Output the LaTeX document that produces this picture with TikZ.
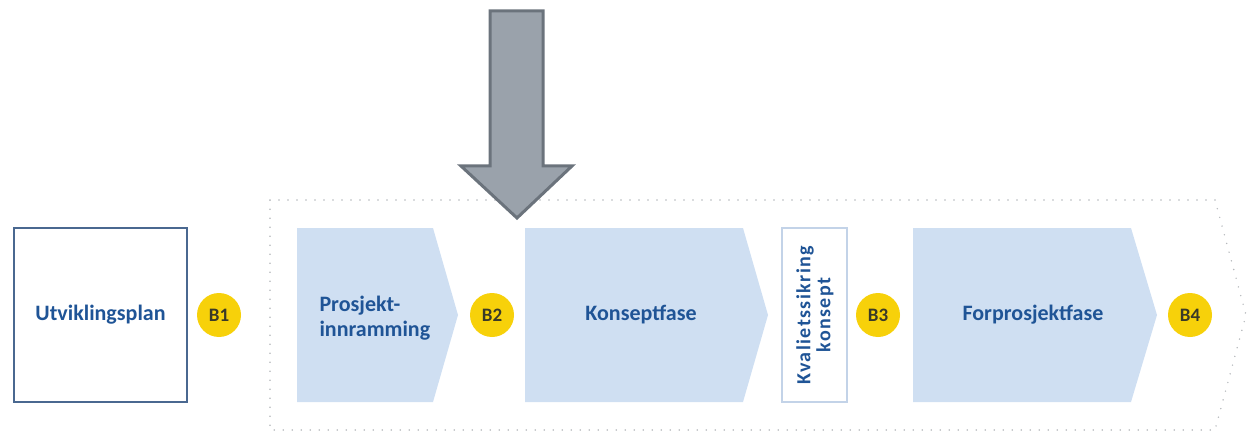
\documentclass[tikz,border=0pt]{standalone}
\usepackage{fontspec}
\setmainfont{Carlito}
\definecolor{phase}{HTML}{CFDFF2}
\definecolor{txtblue}{HTML}{1F5496}
\definecolor{gold}{HTML}{F7D10A}
\definecolor{goldtxt}{HTML}{3A3A28}
\definecolor{arrowfill}{HTML}{9AA2AB}
\definecolor{arrowedge}{HTML}{6B737C}
\definecolor{boxedge}{HTML}{4A6890}
\definecolor{qaedge}{HTML}{C3D3E8}
\definecolor{dotgray}{HTML}{B5B8BC}
\tikzset{
  label/.style={font=\bfseries\fontsize{22}{25}\selectfont, text=txtblue, align=left},
  gate/.style={circle, fill=gold, minimum size=44pt, inner sep=0pt,
    font=\bfseries\fontsize{19}{20}\selectfont, text=goldtxt},
  phasefill/.style={fill=phase, draw=none},
  dotted frame/.style={draw=dotgray, line width=1.6pt, line cap=round, dash pattern=on 0pt off 9pt}
}
\begin{document}
\begin{tikzpicture}[x=1pt,y=-1pt]
\useasboundingbox (0,0) rectangle (1248,433);
% dotted frame
\draw[dotted frame] (270,200) -- (1215,200) -- (1246,315) -- (1215,430) -- (270,430) -- cycle;
% Utviklingsplan
\node[draw=boxedge, line width=1.8pt, minimum width=173pt, minimum height=174pt, inner sep=0pt, label] (utv) at (100.5,315) {Utviklingsplan};
\node[gate] (b1) at (219,315) {B1};
% Prosjektinnramming
\path[phasefill] (297,228) -- (433,228) -- (458,315) -- (433,402) -- (297,402) -- cycle;
\node[label, anchor=west] (pro) at (316,318) {Prosjekt-\\innramming};
\node[gate] (b2) at (492,315) {B2};
% Konseptfase
\path[phasefill] (525,228) -- (743,228) -- (768,315) -- (743,402) -- (525,402) -- cycle;
\node[label] (kon) at (641,315) {Konseptfase};
% QA box
\node[draw=qaedge, line width=1.2pt, fill=white, minimum width=65pt, minimum height=174pt, inner sep=0pt] (qa) at (814.5,315) {};
\node[label, align=center, rotate=90, font=\bfseries\fontsize{20}{20}\selectfont\addfontfeature{LetterSpace=7}] (qat) at (815,315) {Kvalietssikring\\konsept};
\node[gate] (b3) at (878,315) {B3};
% Forprosjektfase
\path[phasefill] (913,228) -- (1131,228) -- (1157,315) -- (1131,402) -- (913,402) -- cycle;
\node[label] (for) at (1033,315) {Forprosjektfase};
\node[gate] (b4) at (1190,315) {B4};
% big arrow
\coordinate (atip) at (517,218);
\draw[fill=arrowfill, draw=arrowedge, line width=3pt, line join=miter]
  (490,11) -- (543,11) -- (543,166) -- (572,166) -- (atip) -- (461,166) -- (490,166) -- cycle;
\end{tikzpicture}
\end{document}
